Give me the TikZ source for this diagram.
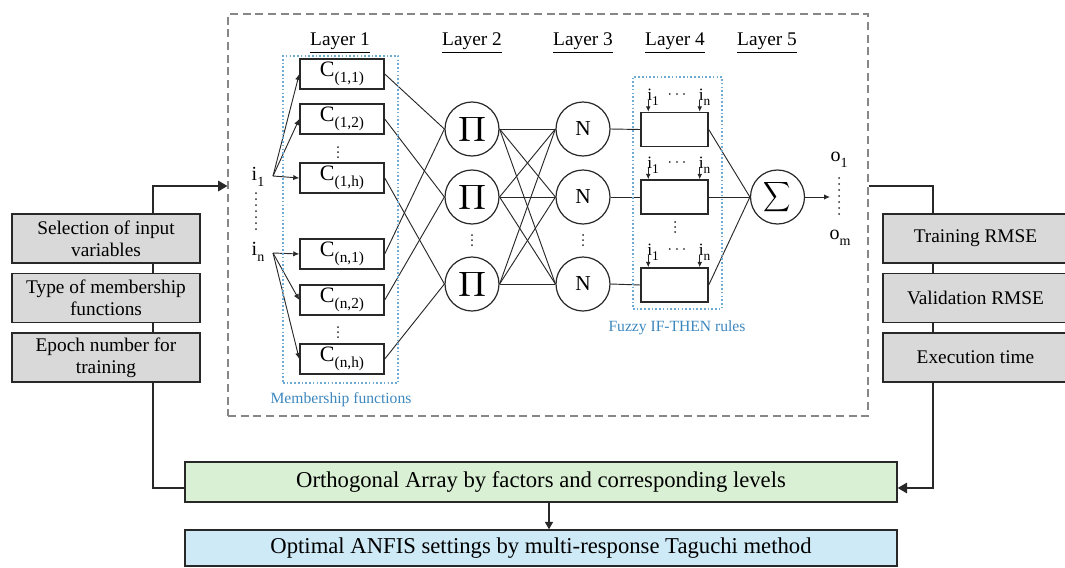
\documentclass[tikz,border=0pt]{standalone}
\usepackage{fontspec}
\setmainfont{Liberation Serif}
\usepackage{graphicx}
\usetikzlibrary{arrows.meta,calc}
\pgfdeclarelayer{bg}
\pgfsetlayers{bg,main}
\definecolor{boxgray}{RGB}{217,217,217}
\definecolor{boxgreen}{RGB}{218,240,212}
\definecolor{boxblue}{RGB}{207,234,247}
\definecolor{lblblue}{RGB}{60,135,190}
\definecolor{dotblue}{RGB}{110,170,210}
\definecolor{dashgray}{RGB}{135,135,135}
\definecolor{edge}{RGB}{40,40,40}
\newcommand\sbs[2]{\raisebox{-0.3em}{\fontsize{#1}{#1}\selectfont #2}}
\begin{document}
\begin{tikzpicture}[x=0.75pt,y=-0.75pt,
  conn/.style={draw=edge,line width=0.7pt},
  inarr/.style={conn,-{Latex[length=4.5pt,width=4pt]}},
  smallarr/.style={conn,-{Latex[length=4pt,width=3.5pt]}},
  bigarr/.style={draw=edge,line width=0.9pt,-{Triangle[length=7pt,width=8pt]}},
  midarr/.style={draw=edge,line width=0.9pt,-{Triangle[length=5.5pt,width=6pt]}},
  mfbox/.style={draw=edge,line width=1.1pt,fill=white,minimum width=63pt,minimum height=22.5pt,inner sep=0pt,font=\fontsize{16.5}{16.5}\selectfont},
  neuron/.style={circle,draw=edge,line width=0.9pt,fill=white,minimum size=40.5pt,inner sep=0pt},
  rulebox/.style={draw=edge,line width=1.1pt,fill=white,minimum width=50.25pt,minimum height=25.5pt,inner sep=0pt},
  factor/.style={draw=edge,line width=1.1pt,fill=boxgray,minimum width=141pt,minimum height=36.75pt,inner sep=0pt,align=center,font=\fontsize{14.5}{16.5}\selectfont},
  response/.style={factor,minimum width=138.75pt},
  bigbox/.style={draw=edge,line width=1.1pt,minimum width=534pt,inner sep=0pt,font=\fontsize{17}{17}\selectfont},
  layerlbl/.style={font=\fontsize{14.5}{14.5}\selectfont,inner sep=0pt},
  bluelbl/.style={text=lblblue,font=\fontsize{11.7}{11.7}\selectfont,inner sep=0pt},
  groupbox/.style={draw=dotblue,line width=0.8pt,dash pattern=on 1.2pt off 1.6pt,inner sep=0pt},
  inlbl/.style={font=\fontsize{15}{15}\selectfont,inner sep=0pt},
  rlbl/.style={font=\fontsize{13}{13}\selectfont,inner sep=0pt},
  dotline/.style={draw=edge,line width=1.5pt,line cap=round,dash pattern=on 0pt off 4.5pt}
]
\useasboundingbox (0,0) rectangle (1065,568);

% containers
\node[draw=dashgray,line width=0.9pt,dash pattern=on 6pt off 3.5pt,minimum width=480pt,minimum height=301.5pt,inner sep=0pt] (anfis) at (548,215) {};
\node[groupbox,minimum width=86.25pt,minimum height=245.25pt] (g1) at (340.5,219.5) {};
\node[groupbox,minimum width=66.75pt,minimum height=174pt] (g4) at (677.5,193) {};
\node[bluelbl] (g1lbl) at (341,400) {Membership functions};
\node[bluelbl] (g4lbl) at (677,328) {Fuzzy IF-THEN rules};

% layer labels
\node[layerlbl] (l1) at (340,43) {\underline{Layer 1}};
\node[layerlbl] (l2) at (472,43) {\underline{Layer 2}};
\node[layerlbl] (l3) at (583,43) {\underline{Layer 3}};
\node[layerlbl] (l4) at (675,43) {\underline{Layer 4}};
\node[layerlbl] (l5) at (767,43) {\underline{Layer 5}};

% inputs
\node[inlbl] (i1) at (258,177) {i\sbs{10.5}{1}};
\node[inlbl] (in) at (258,252) {i\sbs{10.5}{n}};
\coordinate (a1) at (273,176);
\coordinate (an) at (273,253);
\coordinate (d1) at (256,193);
\coordinate (d2) at (256,234);

% layer 1
\node[mfbox] (C11) at (342,74) {C\sbs{11.5}{(1,1)}};
\node[mfbox] (C12) at (342,119) {C\sbs{11.5}{(1,2)}};
\node[mfbox] (C1h) at (342,178) {C\sbs{11.5}{(1,h)}};
\node[mfbox] (Cn1) at (342,254) {C\sbs{11.5}{(n,1)}};
\node[mfbox] (Cn2) at (342,300) {C\sbs{11.5}{(n,2)}};
\node[mfbox] (Cnh) at (342,359) {C\sbs{11.5}{(n,h)}};

% layer 2
\node[neuron] (P1) at (472,129) {\resizebox*{21pt}{20.5pt}{$\displaystyle\prod$}};
\node[neuron] (P2) at (472,197) {\resizebox*{21pt}{20.5pt}{$\displaystyle\prod$}};
\node[neuron] (P3) at (472,284) {\resizebox*{21pt}{20.5pt}{$\displaystyle\prod$}};

% layer 3
\node[neuron,font=\fontsize{16}{16}\selectfont] (N1) at (583,129) {N};
\node[neuron,font=\fontsize{16}{16}\selectfont] (N2) at (583,197) {N};
\node[neuron,font=\fontsize{16}{16}\selectfont] (N3) at (583,284) {N};

% layer 4
\node[rulebox] (R1) at (674.5,129.5) {};
\node[rulebox] (R2) at (674.5,197) {};
\node[rulebox] (R3) at (674.5,285) {};
\foreach \r/\yy in {R1/97,R2/165,R3/252}{
  \node[rlbl] (\r a) at (653,\yy) {i\sbs{10}{1}};
  \node[rlbl] (\r b) at (704.5,\yy) {i\sbs{10}{n}};
  \node[rlbl] (\r c) at (677,\yy-2) {$\cdots$};
  \draw[smallarr] ($(\r.north west)+(8,-12)$) -- ($(\r.north west)+(8,0)$);
  \draw[smallarr] ($(\r.north east)+(-9,-12)$) -- ($(\r.north east)+(-9,0)$);
}

% vertical ellipses
\foreach \x/\y in {338/152, 338/332, 472/240, 583/240, 675/227}{
  \foreach \k in {-5,0,5}{\fill[edge] (\x,\y+\k) circle[radius=0.75pt];}
}

% layer 5
\node[neuron] (S) at (777.5,197) {\resizebox*{20.5pt}{25pt}{$\displaystyle\sum$}};
\coordinate (out) at (830,197);
\node[inlbl] (o1) at (839,160) {o\sbs{10.5}{1}};
\node[inlbl] (om) at (840,238) {o\sbs{10.5}{m}};
\coordinate (e1) at (839,178);
\coordinate (e2) at (839,215);

% factor and response boxes
\node[factor] (F1) at (106,238.5) {Selection of input\\variables};
\node[factor] (F2) at (106,298) {Type of membership\\functions};
\node[factor] (F3) at (106,357.5) {Epoch number for\\training};
\node[response] (T1) at (975.5,238.5) {Training RMSE};
\node[response] (T2) at (975.5,298) {Validation RMSE};
\node[response] (T3) at (975.5,357.5) {Execution time};

% bottom boxes
\node[bigbox,fill=boxgreen,minimum height=30pt] (OA) at (541,482) {Orthogonal Array by factors and corresponding levels};
\node[bigbox,fill=boxblue,minimum height=27pt] (OPT) at (541,548) {Optimal ANFIS settings by multi-response Taguchi method};

\coordinate (ltop) at (153,186);
\coordinate (lbot) at (153,488);
\coordinate (rtop) at (933,186);
\coordinate (rbot) at (933,488);

\begin{pgfonlayer}{bg}
  \draw[bigarr] (OA.west |- lbot) -- (lbot) -- (ltop) -- (anfis.west |- ltop);
  \draw[bigarr] (anfis.east |- rtop) -- (rtop) -- (rbot) -- (OA.east |- rbot);
  \draw[midarr] ($(OA.south)+(8,0)$) -- ($(OPT.north)+(8,0)$);
  \draw[dotline] (d1) -- (d2);
  \draw[dotline] (e1) -- (e2);
  \foreach \c in {C11,C12,C1h}{\draw[inarr] (a1) -- (\c.west);}
  \foreach \c in {Cn1,Cn2,Cnh}{\draw[inarr] (an) -- (\c.west);}
  \draw[conn] (C11.east) -- (P1.west);
  \draw[conn] (C12.east) -- (P2.west);
  \draw[conn] (C1h.east) -- (P3.west);
  \draw[conn] (Cn1.east) -- (P1.west);
  \draw[conn] (Cn2.east) -- (P2.west);
  \draw[conn] (Cnh.east) -- (P3.west);
  \foreach \p in {P1,P2,P3}{\foreach \n in {N1,N2,N3}{\draw[conn] (\p.east) -- (\n.west);}}
  \draw[conn] (N1.east) -- (R1.west);
  \draw[conn] (N2.east) -- (R2.west);
  \draw[conn] (N3.east) -- (R3.west);
  \foreach \r in {R1,R2,R3}{\draw[conn] (\r.east) -- (S.west);}
  \draw[inarr] (S.east) -- (out);
\end{pgfonlayer}
\end{tikzpicture}
\end{document}
